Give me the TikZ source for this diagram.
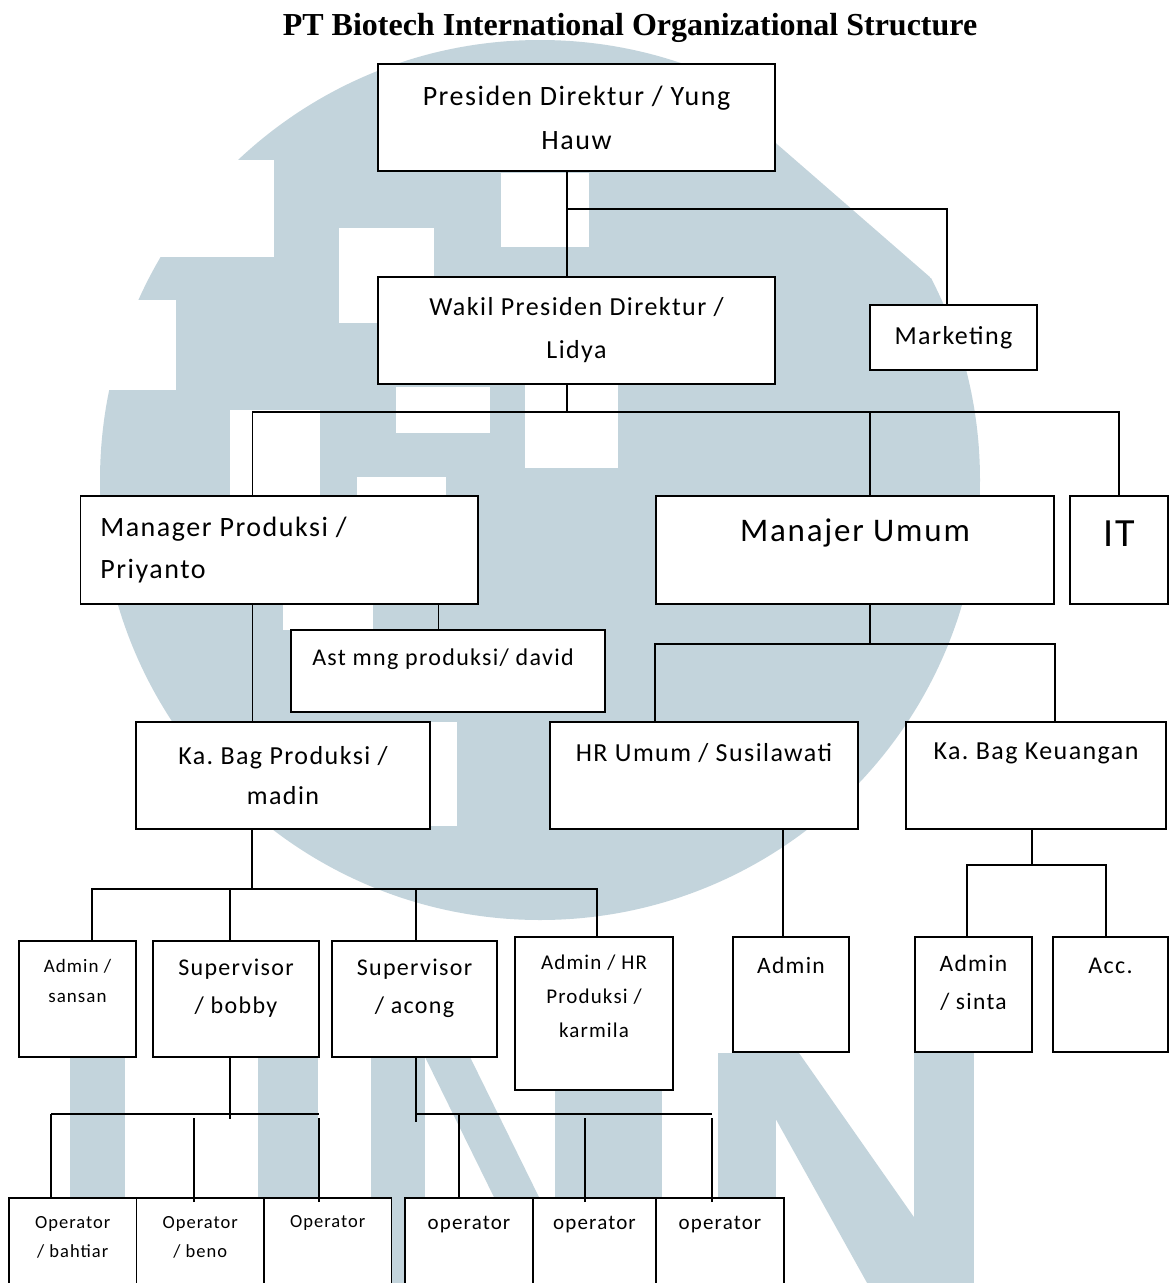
\documentclass[tikz,border=0pt]{standalone}
\usepackage{fontspec}
\setmainfont{Carlito}[LetterSpace=5.5]
\newfontfamily\titlefont{Liberation Serif}
\definecolor{wmblue}{RGB}{195,212,220}
\frenchspacing

\begin{document}
\begin{tikzpicture}[x=1pt, y=-1pt]
	\tikzstyle{box} = [draw, line width=1.8pt, fill=white, inner sep=0pt, align=center]
	\tikzstyle{txt} = [inner sep=0pt, align=center]
	\tikzstyle{conn} = [line width=1.4pt]
	\tikzstyle{thickbar} = [line width=2.4pt]
	\tikzstyle{wm} = [fill=wmblue]

	\useasboundingbox (0,0) rectangle (1169,1283);
	\clip (0,0) rectangle (1169,1283);
	\fill[white] (0,0) rectangle (1169,1283);

	% watermark
	\begin{scope}
	\clip (0,0) -- (640,0) -- (640,25) -- (1000,338) -- (1169,338) -- (1169,1283) -- (0,1283) -- cycle;
	\fill[wm] (540,480) circle[radius=440pt];
	\end{scope}
	\fill[white] (150,160) rectangle (274,257);
	\fill[white] (80,300) rectangle (176,390);
	\fill[white] (339,228) rectangle (434,323);
	\fill[white] (501,173) rectangle (589,247);
	\fill[white] (396,387) rectangle (490,433);
	\fill[white] (357,477) rectangle (446,497);
	\fill[white] (525,385) rectangle (618,468);
	\fill[white] (230,410) rectangle (320,497);
	\fill[white] (283,603) rectangle (373,630);
	\fill[white] (370,722) rectangle (457,826);
	\fill[wm] (70,1057) rectangle (125,1290);
	\fill[wm] (258,1057) rectangle (318,1290);
	\fill[wm] (371,1057) rectangle (425,1290);
	\fill[wm] (425,1057) -- (470,1057) -- (565,1250) -- (520,1250) -- cycle;
	\fill[wm] (555,1090) rectangle (662,1290);
	\fill[wm] (718,1053) rectangle (776,1290);
	\fill[wm] (914,1053) rectangle (974,1290);
	\fill[wm] (739,1053) -- (799,1053) -- (965,1290) -- (871,1290) -- cycle;

	\node[font=\titlefont\bfseries\fontsize{32}{38}\selectfont] (title) at (630,28) {PT Biotech International Organizational Structure};

	\node[box, minimum width=397pt, minimum height=107pt, font=\fontsize{28}{44}\selectfont] (pres) at (576.5,117.5) {Presiden Direktur / Yung\\Hauw};
	\node[box, minimum width=397pt, minimum height=107pt, font=\fontsize{26}{43}\selectfont] (wakil) at (576.5,330.5) {Wakil Presiden Direktur /\\Lidya};
	\node[box, minimum width=167pt, minimum height=65pt, font=\fontsize{26}{32}\selectfont] (mkt) at (953.5,337.5) {Marketing};

	\node[box, minimum width=397.5pt, minimum height=108pt] (mgr) at (279.25,550) {};
	\node[txt, anchor=west, align=left, font=\fontsize{28}{42}\selectfont] (mgrt) at ([xshift=20.5pt]mgr.west) {Manager Produksi /\\Priyanto};
	\node[box, minimum width=398pt, minimum height=108pt] (mu) at (855,550) {};
	\node[txt, font=\fontsize{33}{40}\selectfont] (mut) at ([yshift=-38pt]mu.north) {Manajer Umum};
	\node[box, minimum width=98pt, minimum height=108pt] (it) at (1119,550) {};
	\node[txt, font=\fontsize{40}{46}\selectfont] (itt) at ([yshift=-39pt]it.north) {IT};
	\node[box, minimum width=314pt, minimum height=82pt] (ast) at (448,671) {};
	\node[txt, font=\fontsize{24}{30}\selectfont] (astt) at ([shift={(-5pt,-30pt)}]ast.north) {Ast mng produksi/ david};

	\node[box, minimum width=294pt, minimum height=107pt, font=\fontsize{26}{40}\selectfont] (kbp) at (283,775.5) {Ka. Bag Produksi /\\madin};
	\node[box, minimum width=308pt, minimum height=107pt] (hr) at (704,775.5) {};
	\node[txt, font=\fontsize{26}{32}\selectfont] (hrt) at ([yshift=-32pt]hr.north) {HR Umum / Susilawati};
	\node[box, minimum width=260pt, minimum height=107pt] (keu) at (1036,775.5) {};
	\node[txt, font=\fontsize{26}{32}\selectfont] (keut) at ([yshift=-32pt]keu.north) {Ka. Bag Keuangan};

	\node[box, minimum width=117pt, minimum height=116pt] (adm1) at (77.5,999) {};
	\node[txt, font=\fontsize{19}{30}\selectfont] (adm1t) at ([yshift=-41pt]adm1.north) {Admin /\\sansan};
	\node[box, minimum width=166pt, minimum height=116pt] (sup1) at (236,999) {};
	\node[txt, font=\fontsize{24}{38}\selectfont] (sup1t) at ([yshift=-48pt]sup1.north) {Supervisor\\/ bobby};
	\node[box, minimum width=165pt, minimum height=116pt] (sup2) at (414.5,999) {};
	\node[txt, font=\fontsize{24}{38}\selectfont] (sup2t) at ([yshift=-48pt]sup2.north) {Supervisor\\/ acong};
	\node[box, minimum width=158pt, minimum height=153pt] (admhr) at (594,1013.5) {};
	\node[txt, font=\fontsize{21}{34}\selectfont] (admhrt) at ([yshift=-60pt]admhr.north) {Admin / HR\\Produksi /\\karmila};
	\node[box, minimum width=116pt, minimum height=115pt] (adm2) at (791,994.5) {};
	\node[txt, font=\fontsize{23.5}{30}\selectfont] (adm2t) at ([yshift=-29pt]adm2.north) {Admin};
	\node[box, minimum width=117pt, minimum height=115pt] (sinta) at (973.5,994.5) {};
	\node[txt, font=\fontsize{23.5}{38}\selectfont] (sintat) at ([yshift=-47pt]sinta.north) {Admin\\/ sinta};
	\node[box, minimum width=115pt, minimum height=115pt] (acc) at (1110.5,994.5) {};
	\node[txt, font=\fontsize{24}{30}\selectfont] (acct) at ([yshift=-30pt]acc.north) {Acc.};

	\node[box, minimum width=127.5pt, minimum height=110pt] (op1) at (72.75,1253) {};
	\node[txt, font=\fontsize{18.5}{29}\selectfont] (op1t) at ([yshift=-40.5pt]op1.north) {Operator\\/ bahtiar};
	\node[box, minimum width=127.5pt, minimum height=110pt] (op2) at (200.25,1253) {};
	\node[txt, font=\fontsize{18.5}{29}\selectfont] (op2t) at ([yshift=-40.5pt]op2.north) {Operator\\/ beno};
	\node[box, minimum width=127.5pt, minimum height=110pt] (op3) at (327.75,1253) {};
	\node[txt, font=\fontsize{18.5}{29}\selectfont] (op3t) at ([yshift=-26pt]op3.north) {Operator};
	\node[box, minimum width=128pt, minimum height=110pt] (op4) at (469,1253) {};
	\node[txt, font=\fontsize{21}{29}\selectfont] (op4t) at ([yshift=-27pt]op4.north) {operator};
	\node[box, minimum width=123pt, minimum height=110pt] (op5) at (594.5,1253) {};
	\node[txt, font=\fontsize{21}{29}\selectfont] (op5t) at ([yshift=-27pt]op5.north) {operator};
	\node[box, minimum width=128pt, minimum height=110pt] (op6) at (720,1253) {};
	\node[txt, font=\fontsize{21}{29}\selectfont] (op6t) at ([yshift=-27pt]op6.north) {operator};

	% connectors
	\coordinate (j1) at (567,209);
	\draw[conn] (pres.south -| j1) -- (wakil.north -| j1);
	\draw[conn] (j1) -| ([xshift=-6.5pt]mkt.north);
	\coordinate (j2) at (567,412);
	\draw[conn] (wakil.south -| j2) -- (j2);
	\draw[conn] ([xshift=-27pt]mgr.north) |- (j2) -| (it.north);
	\draw[conn] ([xshift=15pt]mu.north) -- ([xshift=15pt]mu.north |- j2);

	\draw[conn] ([xshift=-27pt]mgr.south) -- ([xshift=-27pt]mgr.south |- kbp.north);
	\draw[conn] ([xshift=159pt]mgr.south) -- ([xshift=159pt]mgr.south |- ast.north);
	\coordinate (j3) at (870,644);
	\draw[conn] (mu.south -| j3) -- (j3);
	\draw[conn] (hr.north -| mu.west) |- (j3) -| (keu.north -| mu.east);

	\coordinate (j4) at (252,889);
	\draw[conn] (kbp.south -| j4) -- (j4);
	\draw[conn] ([xshift=14.5pt]adm1.north) |- (j4) -| ([xshift=3pt]admhr.north);
	\draw[conn] ([xshift=-6pt]sup1.north) -- ([xshift=-6pt]sup1.north |- j4);
	\draw[conn] ([xshift=1.5pt]sup2.north) -- ([xshift=1.5pt]sup2.north |- j4);
	\draw[conn] ([xshift=-8pt]adm2.north) -- ([xshift=-8pt]adm2.north |- hr.south);
	\coordinate (j5) at (1032,865);
	\draw[conn] (keu.south -| j5) -- (j5);
	\draw[conn] ([xshift=-6.5pt]sinta.north) |- (j5) -| ([xshift=-4.5pt]acc.north);

	\coordinate (j6) at (230,1119);
	\coordinate (b1) at (51,1114);
	\coordinate (b2) at (319,1114);
	\draw[conn] (sup1.south -| j6) -- (j6);
	\draw[thickbar] (b1) -- (b2);
	\draw[conn] (b1) -- (b1 |- op1.north);
	\draw[conn] ([shift={(-6.25pt,-5pt)}]op2.north) -- ([shift={(-6.25pt,-4pt)}]op2.north |- b1);
	\draw[conn] ([shift={(-8.75pt,-5pt)}]op3.north) -- ([shift={(-8.75pt,-4pt)}]op3.north |- b2);

	\coordinate (j7) at (416,1122);
	\coordinate (b3) at (416,1114);
	\coordinate (b4) at (712,1114);
	\draw[conn] (sup2.south -| j7) -- (j7);
	\draw[thickbar] (b3) -- (b4);
	\draw[conn] ([xshift=-10pt]op4.north) -- ([xshift=-10pt]op4.north |- b3);
	\draw[conn] ([shift={(-9.5pt,-5pt)}]op5.north) -- ([shift={(-9.5pt,-4pt)}]op5.north |- b3);
	\draw[conn] ([shift={(-8pt,-5pt)}]op6.north) -- ([shift={(-8pt,-4pt)}]op6.north |- b3);
\end{tikzpicture}
\end{document}
